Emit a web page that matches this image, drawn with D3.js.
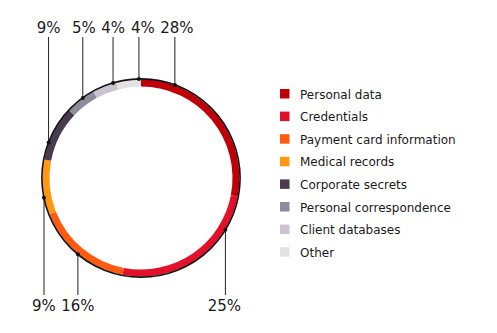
<!DOCTYPE html>
<html>
<head>
<meta charset="utf-8">
<script src="https://cdn.jsdelivr.net/npm/d3@7"></script>
<style>
  html, body { margin: 0; padding: 0; background: #fff; }
  svg { display: block; }
  text { font-family: "DejaVu Sans", sans-serif; fill: #1a1a1a; }
</style>
</head>
<body>
<svg id="chart" width="497" height="333"></svg>
<script>
// ---- data ----
const categories = ["Personal data", "Credentials", "Payment card information", "Medical records",
                    "Corporate secrets", "Personal correspondence", "Client databases", "Other"];
const values = [28, 25, 16, 9, 9, 5, 4, 4];
const labels = ["28%", "25%", "16%", "9%", "9%", "5%", "4%", "4%"];

// ---- style / layout ----
const colors = ["#c00008", "#e3102a", "#ff5a10", "#ff9810", "#463c4b", "#8c8c9a", "#cbc3d2", "#e2e2e2"];
// label anchor angle (degrees, clockwise from top) and whether label goes up or down
const anchorDeg = [20, 121.5, 219.6, 258.5, 291, 324, 343.6, 358.8];
const labelSide = ["top", "bottom", "bottom", "bottom", "top", "top", "top", "top"];
const labelDx = [2, -1, 0, 0, 0, 1, 0, 4];

const svg = d3.select("#chart");
const cx = 141, cy = 178, rOuter = 98.5, band = 7;

const pie = d3.pie().value(d => d).sort(null).startAngle(0).endAngle(2 * Math.PI);
const arcs = pie(values);
const arc = d3.arc().innerRadius(rOuter - band).outerRadius(rOuter);

const g = svg.append("g").attr("transform", `translate(${cx},${cy})`);
g.selectAll("path.seg").data(arcs).enter().append("path")
  .attr("class", "seg")
  .attr("d", arc)
  .attr("fill", (d, i) => colors[i]);

// thin black outer outline
g.append("circle").attr("r", rOuter + 0.6).attr("fill", "none")
  .attr("stroke", "#111").attr("stroke-width", 1.6);

// leader lines & labels
const topY = 37, bottomY = 295;
values.forEach((v, i) => {
  const a = anchorDeg[i] * Math.PI / 180;
  const x = cx + (rOuter + 0.5) * Math.sin(a);
  const y = cy - (rOuter + 0.5) * Math.cos(a);
  const isTop = labelSide[i] === "top";
  svg.append("line")
    .attr("x1", x).attr("y1", y)
    .attr("x2", x).attr("y2", isTop ? topY : bottomY)
    .attr("stroke", "#222").attr("stroke-width", 1);
  svg.append("circle").attr("cx", x).attr("cy", y).attr("r", 2).attr("fill", "#111");
  svg.append("text")
    .attr("x", x + labelDx[i])
    .attr("y", isTop ? 33 : 311)
    .attr("text-anchor", "middle")
    .attr("font-size", 15)
    .text(labels[i]);
});

// legend
const legend = svg.append("g").attr("transform", "translate(280,89)");
const step = 22.6;
categories.forEach((c, i) => {
  const row = legend.append("g").attr("transform", `translate(0,${i * step})`);
  row.append("rect").attr("width", 9.5).attr("height", 9.5).attr("fill", colors[i]);
  row.append("text").attr("x", 20).attr("y", 9.5).attr("font-size", 12).text(c);
});
</script>
</body>
</html>
